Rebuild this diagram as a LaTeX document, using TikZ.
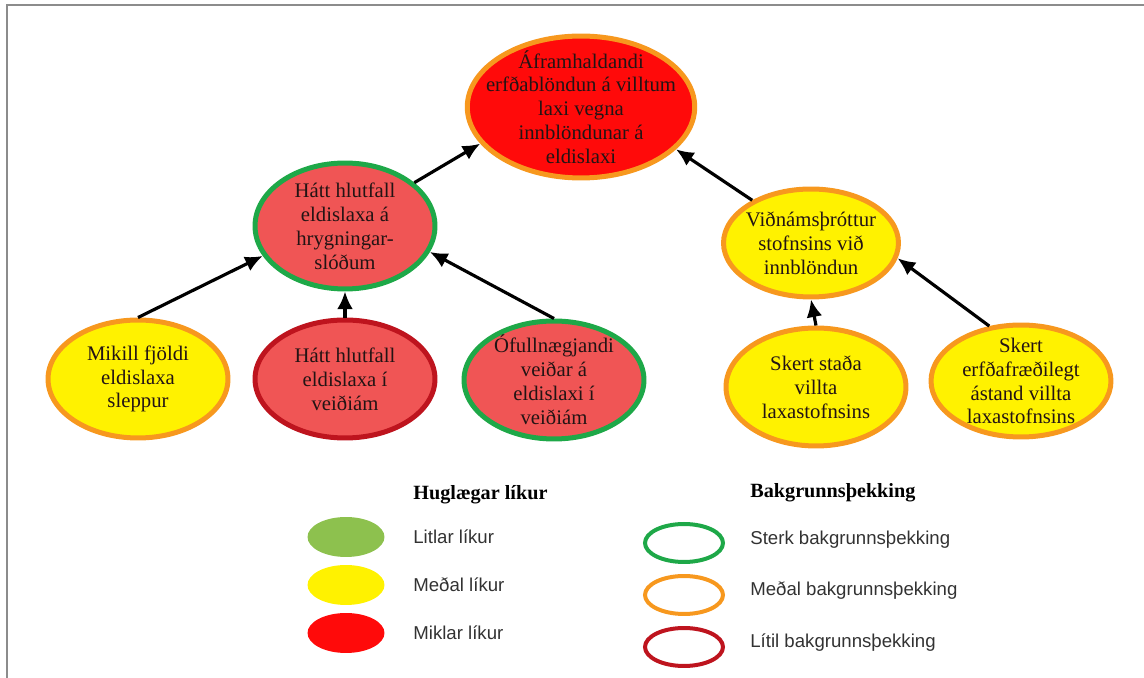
\documentclass[tikz,border=0pt]{standalone}
\usepackage{fontspec}
\setmainfont{Liberation Serif}
\newfontfamily\legendfont{Liberation Sans}
\usetikzlibrary{arrows.meta,shapes.geometric}
\begin{document}
\begin{tikzpicture}[x=0.02cm,y=-0.02cm,
  risk/.style={ellipse,draw,line width=0.1cm,align=center,
    inner xsep=-10pt,inner ysep=-10pt,
    minimum width=3.6cm,minimum height=2.36cm,text=textcol,
    font=\fontsize{11.8}{13.6}\selectfont},
  cause/.style={-{Latex[length=10pt,width=9pt]},line width=1.8pt},
  keyfill/.style={ellipse,inner sep=0pt,minimum width=1.54cm,minimum height=0.8cm},
  keyring/.style={ellipse,draw,line width=0.08cm,inner sep=0pt,
    minimum width=1.56cm,minimum height=0.76cm},
  keytext/.style={anchor=west,inner sep=0pt,text=keycol,
    font=\legendfont\fontsize{10.6}{12}\selectfont},
  keyhead/.style={anchor=west,inner sep=0pt,
    font=\bfseries\fontsize{11.5}{13}\selectfont}]

  \definecolor{textcol}{RGB}{35,20,20}
  \definecolor{keycol}{RGB}{50,50,50}
  \definecolor{framecol}{RGB}{140,140,140}
  \definecolor{hicol}{RGB}{255,10,10}
  \definecolor{lightred}{RGB}{240,85,85}
  \definecolor{midcol}{RGB}{255,242,0}
  \definecolor{lowcol}{RGB}{141,193,78}
  \definecolor{strongcol}{RGB}{30,168,72}
  \definecolor{medcol}{RGB}{247,152,30}
  \definecolor{weakcol}{RGB}{190,20,30}

  \useasboundingbox (0,0) rectangle (1144,678);
  \draw[framecol,line width=0.04cm] (7,678) -- (7,5) -- (1144,5);

  % top event
  \node[risk,fill=hicol,draw=medcol,minimum width=4.55cm,minimum height=2.84cm]
    (afram) at (581,107)
    {Áframhaldandi\\erfðablöndun á villtum\\laxi vegna\\innblöndunar á\\eldislaxi};

  % middle level
  \node[risk,fill=lightred,draw=strongcol,minimum height=2.52cm]
    (hlutfall) at (345,226) {Hátt hlutfall\\eldislaxa á\\hrygningar-\\slóðum};
  \node[risk,fill=midcol,draw=medcol,minimum width=3.5cm,minimum height=2.16cm]
    (vidnam) at (811,243) {Viðnámsþróttur\\stofnsins við\\innblöndun};

  % bottom level
  \node[risk,fill=midcol,draw=medcol] (mikill) at (138,379)
    {Mikill fjöldi\\eldislaxa\\sleppur};
  \node[risk,fill=lightred,draw=weakcol] (veidi) at (345,379)
    {Hátt hlutfall\\eldislaxa í\\veiðiám};
  \node[risk,fill=lightred,draw=strongcol] (ofull) at (554,380)
    {Ófullnægjandi\\veiðar á\\eldislaxi í\\veiðiám};
  \node[risk,fill=midcol,draw=medcol] (stada) at (816,387)
    {Skert staða\\villta\\laxastofnsins};
  \node[risk,fill=midcol,draw=medcol,minimum height=2.24cm] (erfd) at (1021,381)
    {Skert\\erfðafræðilegt\\ástand villta\\laxastofnsins};

  % arrows
  \draw[cause] (mikill.north) -- (hlutfall.200);
  \draw[cause] (veidi.north) -- (hlutfall.south);
  \draw[cause] (ofull.north) -- (hlutfall.343);
  \draw[cause] (hlutfall.32) -- (afram.200);
  \draw[cause] (vidnam.144) -- (afram.336);
  \draw[cause] (stada.north) -- (vidnam.south);
  \draw[cause] (erfd.120) -- (vidnam.350);

  % legend, likelihood
  \node[keyhead] (hlikur) at (413,495) {Huglægar líkur};
  \node[keyfill,fill=lowcol] (klitlar) at (346,537) {};
  \node[keyfill,fill=midcol] (kmedal) at (346,585) {};
  \node[keyfill,fill=hicol] (kmiklar) at (346,633) {};
  \node[keytext] (tlitlar) at (413,537) {Litlar líkur};
  \node[keytext] (tmedal) at (413,585) {Meðal líkur};
  \node[keytext] (tmiklar) at (413,633) {Miklar líkur};

  % legend, background knowledge
  \node[keyhead] (hbakgr) at (750,493) {Bakgrunnsþekking};
  \node[keyring,draw=strongcol] (ksterk) at (684,543) {};
  \node[keyring,draw=medcol] (kmedalb) at (684,595) {};
  \node[keyring,draw=weakcol] (klitil) at (684,647) {};
  \node[keytext] (tsterk) at (750,540) {Sterk bakgrunnsþekking};
  \node[keytext] (tmedalb) at (750,591) {Meðal bakgrunnsþekking};
  \node[keytext] (tlitil) at (750,643) {Lítil bakgrunnsþekking};

\end{tikzpicture}
\end{document}
